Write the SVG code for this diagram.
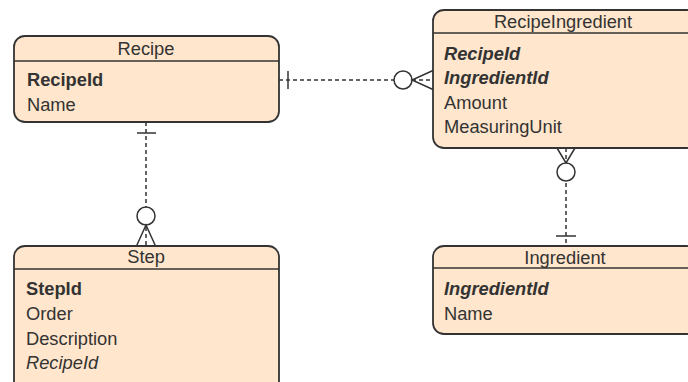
<svg xmlns="http://www.w3.org/2000/svg" width="688" height="382" viewBox="0 0 688 382">
<style>
.box{fill:#FFE6CC;stroke:#333;stroke-width:1.8}
.hd{stroke:#333;stroke-width:1.5}
text{font-family:"Liberation Sans",Arial,sans-serif;font-size:18.3px;fill:#333}
.t{text-anchor:middle}
.b{font-weight:bold}
.i{font-style:italic}
.bi{font-weight:bold;font-style:italic}
.ln{stroke:#333;stroke-width:1.5;fill:none;stroke-dasharray:4 3}
.m{stroke:#333;stroke-width:1.5;fill:none}
.c{stroke:#333;stroke-width:1.5;fill:#fff}
</style>
<rect width="688" height="382" fill="#fff"/>
<g id="connectors">
  <g id="recipe-recipeingredient">
    <line class="ln" x1="279" y1="80" x2="433" y2="80"/>
    <line class="m" x1="288" y1="71" x2="288" y2="89"/>
    <circle class="c" cx="403" cy="80" r="9"/>
    <path class="m" d="M433 70.5 L412 80 L433 89.5"/>
  </g>
  <g id="recipe-step">
    <line class="ln" x1="146" y1="122" x2="146" y2="246"/>
    <line class="m" x1="137" y1="133" x2="156" y2="133"/>
    <circle class="c" cx="146" cy="216" r="9"/>
    <path class="m" d="M136.5 246 L146 225 L155.5 246"/>
  </g>
  <g id="recipeingredient-ingredient">
    <line class="ln" x1="566" y1="148" x2="566" y2="246"/>
    <path class="m" d="M557 148 L566 163 L575 148"/>
    <circle class="c" cx="566" cy="172" r="9"/>
    <line class="m" x1="556" y1="236" x2="576" y2="236"/>
  </g>
</g>
<g id="Recipe">
  <rect class="box" x="14" y="36" width="265" height="86" rx="11"/>
  <line class="hd" x1="14" y1="61" x2="279" y2="61"/>
  <text class="t" x="146" y="55">Recipe</text>
  <text class="b" x="27" y="86">RecipeId</text>
  <text x="27" y="111">Name</text>
</g>
<g id="RecipeIngredient">
  <rect class="box" x="433" y="10" width="265" height="138" rx="11"/>
  <line class="hd" x1="433" y1="33" x2="698" y2="33"/>
  <text class="t" x="563" y="28">RecipeIngredient</text>
  <text class="bi" x="444" y="60">RecipeId</text>
  <text class="bi" x="444" y="84">IngredientId</text>
  <text x="444" y="109">Amount</text>
  <text x="444" y="133">MeasuringUnit</text>
</g>
<g id="Step">
  <rect class="box" x="14" y="246" width="265" height="146" rx="11"/>
  <line class="hd" x1="14" y1="269" x2="279" y2="269"/>
  <text class="t" x="146" y="263">Step</text>
  <text class="b" x="26" y="295">StepId</text>
  <text x="26" y="320">Order</text>
  <text x="26" y="345">Description</text>
  <text class="i" x="26" y="369">RecipeId</text>
</g>
<g id="Ingredient">
  <rect class="box" x="433" y="246" width="265" height="88" rx="11"/>
  <line class="hd" x1="433" y1="268" x2="698" y2="268"/>
  <text class="t" x="565" y="264">Ingredient</text>
  <text class="bi" x="444" y="295">IngredientId</text>
  <text x="444" y="320">Name</text>
</g>
</svg>
